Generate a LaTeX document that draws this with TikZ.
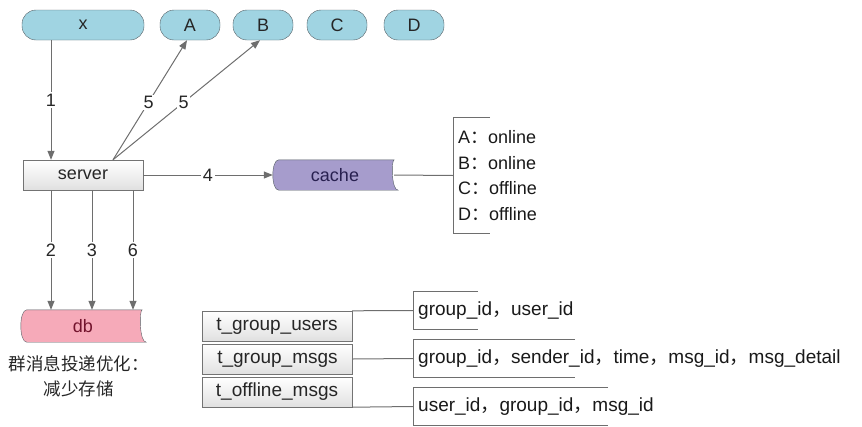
\documentclass[tikz,border=0pt]{standalone}
\usepackage{fontspec}
\setmainfont{Liberation Sans}
\newfontfamily\cjk{Noto Sans CJK SC}
\usetikzlibrary{arrows.meta, positioning, backgrounds, calc}
\definecolor{pillbg}{RGB}{160,212,226}
\definecolor{pilledge}{RGB}{85,95,100}
\definecolor{cachebg}{RGB}{166,156,204}
\definecolor{cachetxt}{RGB}{40,32,80}
\definecolor{dbbg}{RGB}{246,170,185}
\definecolor{dbtxt}{RGB}{115,20,45}
\definecolor{lineg}{RGB}{110,110,110}
\definecolor{boxedge}{RGB}{115,115,115}
\newcommand{\zhcomma}{{\cjk ，}}
\newcommand{\zhcolon}{{\cjk ：}}
\tikzset{
  pill/.style={rectangle, rounded corners=14pt, draw=pilledge, fill=pillbg,
               minimum width=60pt, minimum height=30pt, inner sep=0pt,
               font=\fontsize{18}{22}\selectfont, text=black!85},
  srvbox/.style={rectangle, draw=boxedge, top color=white, bottom color=black!12,
                 minimum width=120pt, minimum height=30pt, inner sep=0pt,
                 font=\fontsize{18}{22}\selectfont, text=black!85},
  tblbox/.style={srvbox, minimum width=150pt, font=\fontsize{19}{22}\selectfont},
  storebox/.style={rectangle, minimum width=120pt, minimum height=30pt,
                   inner sep=0pt, font=\fontsize{18}{22}\selectfont},
  fieldbox/.style={rectangle, anchor=west, minimum height=37pt, inner xsep=5pt,
                   inner ysep=0pt, font=\fontsize{19}{22}\selectfont, text=black!90},
  flow/.style={-{Triangle[length=9pt,width=7pt]}, draw=lineg, line width=1pt},
  link/.style={draw=lineg, line width=1pt},
  steplabel/.style={fill=white, inner sep=1.5pt, font=\fontsize{18}{22}\selectfont,
                    text=black!85},
}

\begin{document}
\begin{tikzpicture}[x=1pt, y=-1pt]
  \useasboundingbox (0,0) rectangle (862,426);

  % clients
  \node[pill, minimum width=122pt] (userx) at (83,25) {x};
  \node[pill] (ua) at (190,25) {A};
  \node[pill] (ub) at (263,25) {B};
  \node[pill] (uc) at (337,25) {C};
  \node[pill] (ud) at (414,25) {D};

  \node[srvbox] (server) at (83,175) {server};
  \node[storebox, text=cachetxt] (cache) at (335,175) {cache};
  \node[storebox, minimum height=32pt, text=dbtxt] (db) at (83,326) {db};
  \node[align=center, font=\cjk\fontsize{17.5}{25}\selectfont, text=black!85,
        anchor=north] (note) at (79,352) {群消息投递优化：\\减少存储};

  \node[anchor=west, minimum height=115pt, inner xsep=5pt, inner ysep=0pt,
        align=left, font=\fontsize{18}{25.5}\selectfont, text=black!90]
    (status) at (453,175.5) {A\zhcolon online\\B\zhcolon online\\C\zhcolon offline\\D\zhcolon offline};

  % tables
  \node[tblbox] (tgu) at (277,326) {t\_group\_users};
  \node[tblbox] (tgm) at (277.5,359) {t\_group\_msgs};
  \node[tblbox] (tom) at (277,392) {t\_offline\_msgs};
  \node[fieldbox] (f1) at (413,310.5) {group\_id\zhcomma user\_id};
  \node[fieldbox] (f2) at (413,358.5) {group\_id\zhcomma sender\_id\zhcomma time\zhcomma msg\_id\zhcomma msg\_detail};
  \node[fieldbox] (f3) at (413,406.5) {user\_id\zhcomma group\_id\zhcomma msg\_id};

  \begin{scope}[on background layer]
    \draw[draw=pilledge, fill=cachebg]
      ([xshift=4pt]cache.north west) .. controls ([xshift=-4pt]cache.north west)
        and ([xshift=-4pt]cache.south west) .. ([xshift=4pt]cache.south west)
      -- ([xshift=3pt]cache.south east) .. controls ([xshift=-4pt]cache.south east)
        and ([xshift=-4pt]cache.north east) .. ([xshift=-1pt]cache.north east) -- cycle;
    \draw[draw=pilledge, fill=dbbg]
      ([xshift=4pt]db.north west) .. controls ([xshift=-4pt]db.north west)
        and ([xshift=-4pt]db.south west) .. ([xshift=4pt]db.south west)
      -- ([xshift=3pt]db.south east) .. controls ([xshift=-4pt]db.south east)
        and ([xshift=-4pt]db.north east) .. ([xshift=-1pt]db.north east) -- cycle;
  \end{scope}

  % flows
  \draw[flow] ([xshift=-32pt]userx.south) -- node[steplabel] {1} ([xshift=-32pt]server.north);
  \coordinate (srvtop) at ([xshift=30pt]server.north);
  \draw[flow] (srvtop) -- node[steplabel, pos=0.48] {5} ([xshift=-3pt]ua.south);
  \draw[flow] (srvtop) -- node[steplabel, pos=0.48] {5} ([xshift=-3pt]ub.south);
  \draw[flow] (server.east) -- node[steplabel] {4} ([xshift=-2pt]cache.west);
  \draw[flow] ([xshift=-32pt]server.south) -- node[steplabel] {2} ([xshift=-32pt]db.north);
  \draw[flow] ([xshift=9pt]server.south) -- node[steplabel] {3} ([xshift=9pt]db.north);
  \draw[flow] ([xshift=50pt]server.south) -- node[steplabel] {6} ([xshift=50pt]db.north);

  % brackets
  \draw[link] ([xshift=-1pt]cache.east) -- (status.west);
  \draw[link] ([xshift=37pt]status.north west) -- (status.north west)
    -- (status.south west) -- ([xshift=37pt]status.south west);
  \draw[link] (tgu.north east) -- (f1.west);
  \draw[link] (tgm.east) -- (f2.west);
  \draw[link] (tom.south east) -- (f3.west);
  \draw[link] ([xshift=65pt]f1.north west) -- (f1.north west) -- (f1.south west) -- ([xshift=65pt]f1.south west);
  \draw[link] ([xshift=162pt]f2.north west) -- (f2.north west) -- (f2.south west) -- ([xshift=162pt]f2.south west);
  \draw[link] ([xshift=195pt]f3.north west) -- (f3.north west) -- (f3.south west) -- ([xshift=195pt]f3.south west);
\end{tikzpicture}
\end{document}
